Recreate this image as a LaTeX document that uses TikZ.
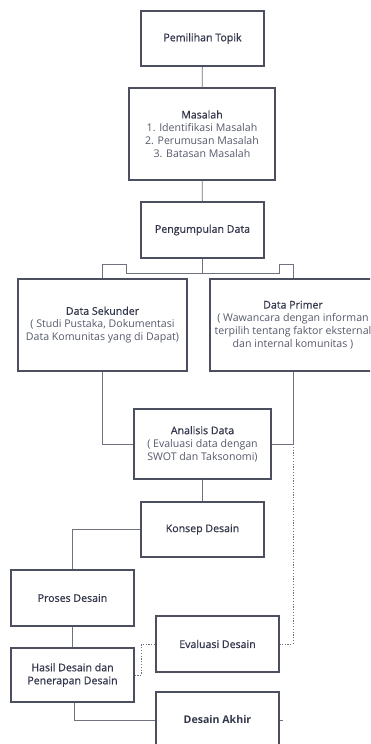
\documentclass[tikz,border=0pt]{standalone}
\usepackage{fontspec}
\setmainfont{Open Sans}
\newfontfamily\semifont{Open Sans}[BoldFont={Open Sans}, BoldFeatures={FakeBold=0.7}]
\usetikzlibrary{calc}

\definecolor{boxline}{HTML}{4B4F60}
\definecolor{wireline}{HTML}{6E7281}
\definecolor{titletext}{HTML}{33374B}
\definecolor{bodytext}{HTML}{565A6C}

\tikzset{
    stepbox/.style={draw=boxline, line width=1.3pt, fill=white, align=center,
        inner sep=0pt, font=\fontsize{10.6}{13}\selectfont, text=titletext},
    wire/.style={draw=wireline, line width=0.8pt},
    dotwire/.style={draw=wireline, line width=0.8pt, dash pattern=on 1.2pt off 1.6pt}
}
\newcommand{\body}[1]{{\color{bodytext}#1}}
\newcommand{\judul}[1]{{\semifont\bfseries#1}}

\begin{document}
\begin{tikzpicture}[x=1pt, y=-1pt]

    \useasboundingbox (0,0) rectangle (370,744);
    \clip (0,0) rectangle (370,744);

    % --- 1. Topik dan Masalah ---
    \node [stepbox, minimum width=123pt, minimum height=55pt] (topik) at (202.5,38.5) {\judul{Pemilihan Topik}};
    \node [stepbox, minimum width=146pt, minimum height=92pt] (masalah) at (202,134)
        {\judul{Masalah}\\ \body{1. Identifikasi Masalah}\\ \body{2. Perumusan Masalah}\\ \body{3. Batasan Masalah}};
    \node [stepbox, minimum width=123pt, minimum height=56pt] (kumpul) at (202.5,230) {\judul{Pengumpulan Data}};

    \draw [wire] (topik) -- (masalah);
    \draw [wire] (masalah) -- (kumpul);

    % --- 2. Data Sekunder / Data Primer ---
    \node [stepbox, minimum width=169pt, minimum height=92pt] (sekunder) at (102.5,325)
        {\judul{Data Sekunder}\\ \body{( Studi Pustaka, Dokumentasi}\\ \body{Data Komunitas yang di Dapat)}};
    \node [stepbox, minimum width=166pt, minimum height=92pt] (primer) at (293,325)
        {\judul{Data Primer}\\ \body{( Wawancara dengan informan}\\ \body{terpilih tentang faktor eksternal}\\ \body{dan internal komunitas )}};

    % percabangan dari pengumpulan data
    \coordinate (cabang) at (202.5,273);
    \draw [wire] (kumpul) -- (cabang);
    \draw [wire] (cabang) -- (126,273) -- (126,264) -| (sekunder.north);
    \draw [wire] (cabang) -- (279,273) -- (279,264) -| (primer.north);

    % --- 3. Analisis Data ---
    \node [stepbox, minimum width=137pt, minimum height=70pt] (analisis) at (202.5,444)
        {\judul{Analisis Data}\\ \body{( Evaluasi data dengan}\\ \body{SWOT dan Taksonomi)}};
    \draw [wire] (sekunder.south) |- (analisis.west);
    \draw [wire] (primer.south) |- (analisis.east);
    \coordinate (umpan) at (analisis.east -| primer.south);

    % --- 4. Konsep, Proses, Hasil ---
    \node [stepbox, minimum width=123pt, minimum height=55pt] (konsep) at (202.5,529.5) {\judul{Konsep Desain}};
    \node [stepbox, minimum width=123pt, minimum height=56pt] (proses) at (72.5,598) {\judul{Proses Desain}};
    \node [stepbox, minimum width=123pt, minimum height=54pt] (hasil) at (72.5,675)
        {\judul{Hasil Desain dan}\\ \judul{Penerapan Desain}};
    \draw [wire] (analisis) -- (konsep);
    \draw [wire] (konsep.west) -| (proses.north);
    \draw [wire] (proses) -- (hasil);

    % --- 5. Evaluasi (garis putus-putus) ---
    \node [stepbox, minimum width=123pt, minimum height=56pt] (evaluasi) at (217.5,644) {\judul{Evaluasi Desain}};
    \draw [dotwire] (umpan) |- (evaluasi.east);
    \draw [dotwire] (hasil.east) -- ++(7,0) |- (evaluasi.west);

    % --- 6. Desain Akhir ---
    \node [stepbox, minimum width=123pt, minimum height=56pt] (akhir) at (217.5,720) {\bfseries Desain Akhir};
    \draw [wire] ($(hasil.south)+(1.5,0)$) |- (akhir.west);
    \draw [wire] (akhir.east) -- ++(3,0);

\end{tikzpicture}
\end{document}
